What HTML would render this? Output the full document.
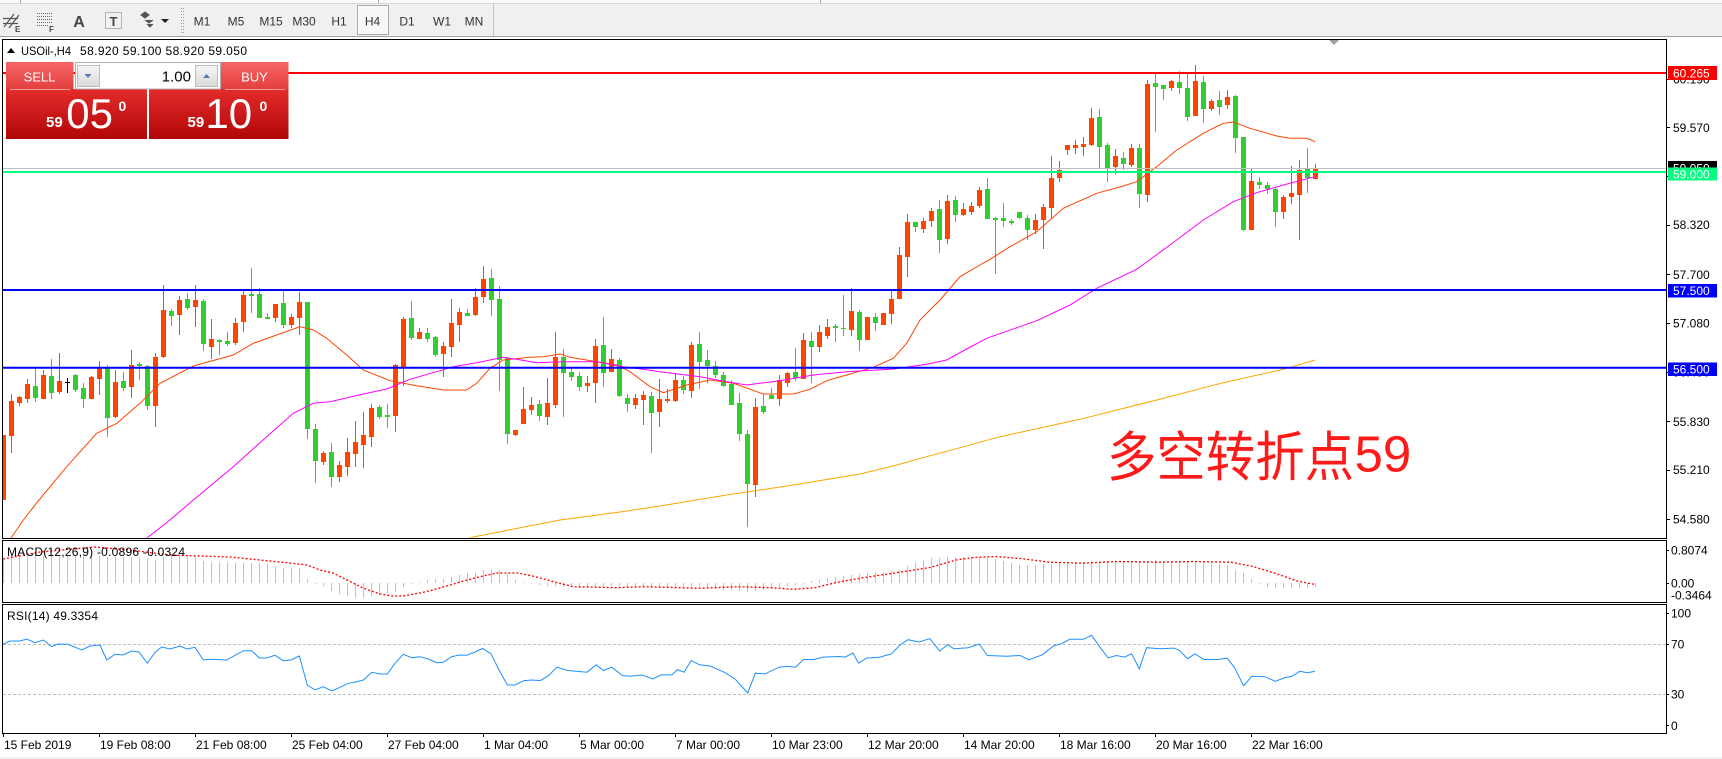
<!DOCTYPE html>
<html><head><meta charset="utf-8"><style>
html,body{margin:0;padding:0;background:#fff;width:1722px;height:759px;overflow:hidden}
svg{display:block}
text{font-family:"Liberation Sans","Noto Sans CJK SC",sans-serif}
</style></head><body>
<svg width="1722" height="759" viewBox="0 0 1722 759" xmlns="http://www.w3.org/2000/svg">
<defs>
<clipPath id="cm"><rect x="3" y="40" width="1663" height="498"/></clipPath>
<clipPath id="cd"><rect x="3" y="541" width="1663" height="61"/></clipPath>
<clipPath id="cr"><rect x="3" y="605" width="1663" height="128"/></clipPath>
<linearGradient id="gTab" x1="0" y1="0" x2="0" y2="1"><stop offset="0" stop-color="#f86565"/><stop offset="1" stop-color="#e33e3e"/></linearGradient>
<linearGradient id="gBox" x1="0" y1="0" x2="0" y2="1"><stop offset="0" stop-color="#e42c2c"/><stop offset="1" stop-color="#b20606"/></linearGradient>
<linearGradient id="gBtn" x1="0" y1="0" x2="0" y2="1"><stop offset="0" stop-color="#f6f6f6"/><stop offset="1" stop-color="#dadada"/></linearGradient>
</defs>
<rect width="1722" height="759" fill="#fff"/>

<!-- toolbar -->
<rect x="0" y="0" width="1722" height="37" fill="#f0f0f0"/>
<rect x="0" y="0" width="1722" height="3" fill="#fbfbfb"/>
<path d="M0 3.5H1722" stroke="#d4d4d4"/>
<path d="M20.5 0V3M378.5 0V3M820.5 0V3" stroke="#a0a0a0"/>
<path d="M0 36.5H1722" stroke="#a0a0a0"/>
<path d="M4 27l10-13M9 28l10-13M3 18.5h15M3 23.5h15" stroke="#555" stroke-width="1.2" fill="none"/>
<text x="15" y="32" font-size="8" font-weight="bold" fill="#444">E</text>
<path d="M37 13.5h15M37 16.5h15M37 19.5h15M37 22.5h15M37 25.5h11" stroke="#666" stroke-dasharray="1,1" fill="none"/>
<text x="49" y="32" font-size="8" font-weight="bold" fill="#444">F</text>
<text x="79" y="27" font-size="16" font-weight="bold" fill="#444" text-anchor="middle">A</text>
<rect x="105.5" y="12.5" width="16" height="16" fill="none" stroke="#777" stroke-dasharray="1,1"/>
<text x="113.5" y="26" font-size="13" font-weight="bold" fill="#444" text-anchor="middle">T</text>
<path d="M141 15l4-3 4 3-4 3zM145 20l4 3 4-3M147 24l3 3 3-3" fill="#555" stroke="#555"/>
<path d="M161 19h8l-4 4z" fill="#222"/>
<path d="M181.5 8V34M183.5 8V34" stroke="#999" stroke-dasharray="1,2"/>
<rect x="357.5" y="5.5" width="31" height="29" fill="#f8f8f8" stroke="#aaa"/>
<path d="M493.5 4V36" stroke="#c4c4c4"/>
<g font-size="12" fill="#333" text-anchor="middle">
<text x="202" y="25.5">M1</text><text x="236" y="25.5">M5</text><text x="271" y="25.5">M15</text><text x="304" y="25.5">M30</text><text x="339" y="25.5">H1</text><text x="372.5" y="25.5">H4</text><text x="407" y="25.5">D1</text><text x="442" y="25.5">W1</text><text x="474" y="25.5">MN</text>
</g>

<!-- main panel content -->
<g clip-path="url(#cm)">
<path fill="#ff4500" d="M1 435h5v65h-5zM9 401h5v35h-5zM17 397h5v6h-5zM25 384h5v15h-5zM41 375h5v24h-5zM57 381h5v11h-5zM89 377h5v22h-5zM97 367h5v12h-5zM113 382h5v35h-5zM129 365h5v22h-5zM153 357h5v49h-5zM161 310h5v47h-5zM177 300h5v15h-5zM193 300h5v7h-5zM209 339h5v8h-5zM233 323h5v20h-5zM241 295h5v27h-5zM273 304h5v14h-5zM289 317h5v8h-5zM297 302h5v16h-5zM321 453h5v9h-5zM337 465h5v12h-5zM345 452h5v15h-5zM353 442h5v12h-5zM361 435h5v10h-5zM369 408h5v29h-5zM393 365h5v51h-5zM401 319h5v48h-5zM417 332h5v7h-5zM441 346h5v8h-5zM449 323h5v24h-5zM457 312h5v13h-5zM473 297h5v18h-5zM481 279h5v18h-5zM513 430h5v5h-5zM521 409h5v15h-5zM529 405h5v5h-5zM545 403h5v14h-5zM553 357h5v48h-5zM585 383h5v3h-5zM593 346h5v37h-5zM609 359h5v13h-5zM633 398h5v7h-5zM641 395h5v5h-5zM657 399h5v13h-5zM665 399h5v2h-5zM673 380h5v21h-5zM689 345h5v46h-5zM753 407h5v78h-5zM777 380h5v19h-5zM785 373h5v10h-5zM801 340h5v39h-5zM817 332h5v15h-5zM825 327h5v9h-5zM849 311h5v19h-5zM865 317h5v23h-5zM881 313h5v12h-5zM889 299h5v15h-5zM897 255h5v44h-5zM905 222h5v35h-5zM921 221h5v8h-5zM929 211h5v10h-5zM945 201h5v38h-5zM961 209h5v6h-5zM969 206h5v6h-5zM977 190h5v16h-5zM1033 220h5v10h-5zM1041 207h5v13h-5zM1049 178h5v30h-5zM1057 170h5v8h-5zM1065 145h5v5h-5zM1073 145h5v3h-5zM1081 144h5v3h-5zM1089 118h5v27h-5zM1113 156h5v11h-5zM1129 148h5v17h-5zM1145 84h5v111h-5zM1169 81h5v7h-5zM1193 81h5v35h-5zM1209 101h5v8h-5zM1225 97h5v8h-5zM1249 181h5v49h-5zM1281 197h5v15h-5zM1289 193h5v4h-5zM1297 170h5v25h-5zM1313 168h5v11h-5z"/>
<path fill="none" stroke="#ff4500" d="M11.5 394V453M19.5 396V406M27.5 379V403M43.5 370V399M59.5 353V394M91.5 376V399M99.5 361V395M115.5 370V418M131.5 350V398M155.5 353V427M163.5 285V358M179.5 296V335M195.5 285V327M211.5 319V359M235.5 318V345M243.5 290V332M275.5 304V322M291.5 314V328M299.5 292V335M323.5 451V465M339.5 461V482M347.5 438V476M355.5 421V467M363.5 412V468M371.5 404V447M395.5 364V432M403.5 317V386M419.5 328V339M443.5 342V377M451.5 299V357M459.5 308V342M475.5 288V316M483.5 266V303M515.5 430V436M523.5 387V424M531.5 397V415M547.5 378V425M555.5 332V408M587.5 376V392M595.5 339V403M611.5 349V372M635.5 394V409M643.5 391V425M659.5 379V427M667.5 389V403M675.5 373V402M691.5 342V398M755.5 398V497M779.5 375V406M787.5 372V387M803.5 333V379M819.5 325V352M827.5 319V339M851.5 288V336M867.5 317V340M883.5 313V325M891.5 291V324M899.5 247V299M907.5 214V277M923.5 218V233M931.5 208V227M947.5 195V244M963.5 203V216M971.5 202V215M979.5 187V208M1035.5 214V234M1043.5 204V249M1051.5 156V218M1059.5 161V182M1067.5 145V155M1075.5 140V154M1083.5 137V156M1091.5 108V146M1115.5 149V174M1131.5 144V167M1147.5 80V202M1171.5 80V91M1195.5 65V116M1211.5 99V111M1227.5 90V109M1251.5 168V230M1283.5 195V219M1291.5 166V204M1299.5 160V240M1315.5 164V179"/>
<path fill="#32cd32" d="M33 386h5v12h-5zM49 376h5v17h-5zM73 375h5v15h-5zM81 388h5v11h-5zM105 368h5v50h-5zM121 381h5v7h-5zM137 364h5v2h-5zM145 366h5v40h-5zM169 311h5v5h-5zM185 299h5v9h-5zM201 301h5v43h-5zM217 340h5v2h-5zM225 341h5v3h-5zM249 294h5v2h-5zM257 294h5v24h-5zM265 317h5v2h-5zM281 303h5v22h-5zM305 302h5v127h-5zM313 429h5v32h-5zM329 452h5v25h-5zM377 407h5v10h-5zM385 415h5v2h-5zM409 318h5v20h-5zM425 333h5v6h-5zM433 337h5v18h-5zM465 313h5v3h-5zM489 278h5v22h-5zM497 299h5v61h-5zM505 358h5v76h-5zM537 404h5v12h-5zM561 357h5v16h-5zM569 372h5v5h-5zM577 376h5v11h-5zM601 345h5v28h-5zM617 360h5v36h-5zM625 398h5v6h-5zM649 396h5v17h-5zM681 380h5v10h-5zM697 344h5v18h-5zM705 360h5v6h-5zM713 366h5v9h-5zM721 375h5v11h-5zM729 384h5v21h-5zM737 403h5v31h-5zM745 434h5v50h-5zM761 406h5v6h-5zM769 395h5v4h-5zM793 372h5v6h-5zM809 341h5v6h-5zM833 326h5v2h-5zM841 328h5v1h-5zM857 312h5v28h-5zM873 317h5v6h-5zM913 222h5v5h-5zM937 209h5v31h-5zM953 200h5v15h-5zM985 189h5v30h-5zM993 218h5v2h-5zM1001 218h5v3h-5zM1009 221h5v2h-5zM1017 212h5v6h-5zM1025 218h5v12h-5zM1097 117h5v30h-5zM1105 145h5v23h-5zM1121 158h5v6h-5zM1137 148h5v46h-5zM1153 83h5v4h-5zM1161 85h5v4h-5zM1177 82h5v6h-5zM1185 88h5v29h-5zM1201 82h5v27h-5zM1217 100h5v7h-5zM1233 96h5v42h-5zM1241 137h5v93h-5zM1257 182h5v3h-5zM1265 185h5v4h-5zM1273 189h5v23h-5zM1305 169h5v9h-5z"/>
<path fill="none" stroke="#32cd32" d="M35.5 368V402M51.5 359V399M75.5 374V392M83.5 383V408M107.5 365V437M123.5 372V391M139.5 362V380M147.5 365V410M171.5 309V326M187.5 293V310M203.5 299V351M219.5 339V355M227.5 332V346M251.5 268V313M259.5 288V318M267.5 313V319M283.5 290V328M307.5 302V439M315.5 424V483M331.5 443V487M379.5 405V419M387.5 404V428M411.5 301V340M427.5 328V342M435.5 336V357M467.5 309V316M491.5 269V316M499.5 286V391M507.5 357V444M539.5 400V421M563.5 349V417M571.5 367V381M579.5 372V391M603.5 317V387M619.5 358V397M627.5 394V412M651.5 392V453M683.5 376V394M699.5 332V389M707.5 350V383M715.5 361V378M723.5 372V387M731.5 380V405M739.5 393V441M747.5 430V527M763.5 394V414M771.5 388V399M795.5 348V381M811.5 332V383M835.5 324V342M843.5 295V336M859.5 310V351M875.5 313V331M915.5 222V232M939.5 200V253M955.5 196V222M987.5 178V219M995.5 217V274M1003.5 203V227M1011.5 219V225M1019.5 212V219M1027.5 215V240M1099.5 109V168M1107.5 143V182M1123.5 152V170M1139.5 144V208M1155.5 74V132M1163.5 85V100M1179.5 71V94M1187.5 74V121M1203.5 76V123M1219.5 91V115M1235.5 95V153M1243.5 137V231M1259.5 177V189M1267.5 182V194M1275.5 187V227M1307.5 148V193"/>
<path fill="none" stroke="#000" d="M67.5 378V393M65 382.5H70"/>

<polyline fill="none" stroke="#ff4500" stroke-width="1" points="10,539 11.7,537 23.3,520 39,500 66.7,466.7 96.7,433.3 116.7,423.3 140,403.3 160,383.3 193.3,366 233.3,355 253.3,343.3 276.7,335 300,326.7 313.3,330 326.7,338.3 346.7,355 363.3,370 390,380.7 416.7,385.7 443.3,390 466.7,390 476.7,383.3 490,368.3 503.3,360 530,357.3 543.3,356.7 560,354 570,357.3 596.7,361.7 616.7,365 630,371.7 650,386.7 663.3,392.7 686.7,385 710,380 733.3,383.3 763.3,394 793.3,394 810,389.3 826.7,380.7 846.7,375 873.3,367.3 893.3,358.3 906.7,343.3 920,320 940,300 960,276.7 980,265 990,259.3 1010,246.7 1036.7,231.7 1063.3,208.3 1096.7,193.3 1123.3,186 1136.7,181.7 1156.7,166.7 1176.7,150 1203.3,133.3 1223.3,123.3 1233.3,122 1250,128.3 1276.7,136 1290,138.3 1306.7,138.3 1315,141.7"/>
<polyline fill="none" stroke="#ff00ff" stroke-width="1" points="146,539 148.3,537 170,520 193.3,500 233.3,466.7 266.7,436.7 293.3,413.3 313.3,403.3 330,401.7 363.3,394 386.7,389 410,379.3 440,370.7 453.3,366.7 476.7,362.7 503.3,357.3 516.7,359.3 536.7,362.7 563.3,361.7 596.7,361.7 623.3,366.7 643.3,369.3 660,371.7 700,376.7 726.7,381.7 746.7,385 760,383.3 780,380.7 813.3,375 846.7,371.7 893.3,369 926.7,364.3 946.7,360 966.7,349 986.7,338.3 1036.7,320.7 1070,305 1096.7,288.3 1136.7,269.3 1176.7,240 1203.3,220 1233.3,201.7 1256.7,192.7 1283.3,185 1315,176.7"/>
<polyline fill="none" stroke="#ffa500" stroke-width="1" points="468,539 473,537 500,531.7 560,520 620,512 660,506 726.7,495 793.3,485 860,474 893,466 926.7,456.7 960,447.7 1000,436.7 1080,419.3 1156.7,400 1223.3,382.7 1283.3,369.3 1315,360"/>

<path d="M3 73H1666" stroke="#ff0000" stroke-width="2"/>
<path d="M3 168.5H1666" stroke="#c0c0c0" stroke-width="1"/>
<path d="M3 172H1666" stroke="#00ff7f" stroke-width="2"/>
<path d="M3 290H1666" stroke="#0000ff" stroke-width="2"/>
<path d="M3 367.7H1666" stroke="#0000ff" stroke-width="2"/>
</g>

<!-- chart shift marker -->
<path d="M1329 40h10l-5 5z" fill="#a0a0a0"/>

<!-- Chinese annotation -->
<text x="1107" y="476" font-size="54" fill="#ff1a1a" textLength="247" lengthAdjust="spacingAndGlyphs" style="font-family:'Liberation Sans','Noto Sans CJK SC',sans-serif">多空转折点</text>
<text x="1354.5" y="471.5" font-size="51" fill="#ff1a1a">59</text>

<!-- header -->
<path d="M7 53l4-5 4 5z" fill="#000"/>
<text x="21" y="55" font-size="12" fill="#000" textLength="50" lengthAdjust="spacingAndGlyphs">USOil-,H4</text>
<text x="80" y="55" font-size="12" fill="#000" textLength="167">58.920 59.100 58.920 59.050</text>

<!-- trade panel -->
<rect x="6" y="62" width="67.5" height="28" fill="url(#gTab)"/>
<rect x="221" y="62" width="67.5" height="28" fill="url(#gTab)"/>
<rect x="6" y="89" width="141" height="50" fill="url(#gBox)"/>
<rect x="149" y="89" width="139.5" height="50" fill="url(#gBox)"/>
<path d="M10 89.5h60M225 89.5h60" stroke="#f49a9a"/>
<rect x="75.5" y="62.5" width="145" height="26.5" fill="#fff" stroke="#b0b0b0"/>
<rect x="77.5" y="65.5" width="22" height="21" fill="url(#gBtn)" stroke="#bcbcbc"/>
<path d="M84.5 74h7l-3.5 4z" fill="#5a78b4"/>
<rect x="195.5" y="65.5" width="22" height="21" fill="url(#gBtn)" stroke="#bcbcbc"/>
<path d="M203 78h7l-3.5-4z" fill="#5a78b4"/>
<text x="191" y="81.5" font-size="15" fill="#000" text-anchor="end">1.00</text>
<text x="39.5" y="81.5" font-size="13" fill="#fff" text-anchor="middle">SELL</text>
<text x="254.5" y="81.5" font-size="13" fill="#fff" text-anchor="middle">BUY</text>
<text x="46" y="127" font-size="15" font-weight="bold" fill="#fff">59</text>
<text x="66.3" y="128" font-size="42" fill="#fff">05</text>
<text x="118.5" y="111" font-size="14" font-weight="bold" fill="#fff">0</text>
<text x="187.5" y="127" font-size="15" font-weight="bold" fill="#fff">59</text>
<text x="205.4" y="128" font-size="42" fill="#fff">10</text>
<text x="259.5" y="111" font-size="14" font-weight="bold" fill="#fff">0</text>

<!-- MACD -->
<g clip-path="url(#cd)">
<path fill="none" stroke="#c0c0c0" d="M3.5 583V559M11.5 583V556M19.5 583V556M27.5 583V556M35.5 583V556M43.5 583V556M51.5 583V556M59.5 583V556M67.5 583V556M75.5 583V556M83.5 583V556M91.5 583V556M99.5 583V556M107.5 583V557M115.5 583V557M123.5 583V557M131.5 583V557M139.5 583V557M147.5 583V558M155.5 583V560M163.5 583V556M171.5 583V556M179.5 583V556M187.5 583V556M195.5 583V557M203.5 583V561M211.5 583V562M219.5 583V562M227.5 583V562M235.5 583V563M243.5 583V563M251.5 583V563M259.5 583V563M267.5 583V564M275.5 583V567M283.5 583V568M291.5 583V568M299.5 583V568M307.5 583V579M315.5 583V584M323.5 583V586M331.5 583V591M339.5 583V594M347.5 583V596M355.5 583V598M363.5 583V598M371.5 583V596M379.5 583V595M387.5 583V593M395.5 583V592M403.5 583V587M411.5 583V584M419.5 583V582M427.5 583V580M435.5 583V579M443.5 583V579M451.5 583V577M459.5 583V575M467.5 583V573M475.5 583V573M483.5 583V570M491.5 583V569M499.5 583V570M507.5 583V574M515.5 583V580M523.5 583V582M531.5 583V584M539.5 583V585M547.5 583V586M555.5 583V586M563.5 583V587M571.5 583V587M579.5 583V587M587.5 583V587M595.5 583V586M603.5 583V586M611.5 583V586M619.5 583V586M627.5 583V587M635.5 583V587M643.5 583V587M651.5 583V588M659.5 583V587M667.5 583V587M675.5 583V587M683.5 583V587M691.5 583V587M699.5 583V587M707.5 583V588M715.5 583V589M723.5 583V590M731.5 583V590M739.5 583V591M747.5 583V592M755.5 583V591M763.5 583V590M771.5 583V588M779.5 583V587M787.5 583V586M795.5 583V585M803.5 583V584M811.5 583V581M819.5 583V580M827.5 583V578M835.5 583V577M843.5 583V576M851.5 583V575M859.5 583V574M867.5 583V573M875.5 583V572M883.5 583V572M891.5 583V571M899.5 583V570M907.5 583V566M915.5 583V562M923.5 583V560M931.5 583V558M939.5 583V558M947.5 583V557M955.5 583V557M963.5 583V557M971.5 583V557M979.5 583V558M987.5 583V558M995.5 583V559M1003.5 583V561M1011.5 583V563M1019.5 583V565M1027.5 583V565M1035.5 583V565M1043.5 583V564M1051.5 583V564M1059.5 583V563M1067.5 583V563M1075.5 583V562M1083.5 583V562M1091.5 583V561M1099.5 583V561M1107.5 583V561M1115.5 583V561M1123.5 583V561M1131.5 583V561M1139.5 583V561M1147.5 583V561M1155.5 583V560M1163.5 583V561M1171.5 583V561M1179.5 583V561M1187.5 583V562M1195.5 583V562M1203.5 583V563M1211.5 583V563M1219.5 583V564M1227.5 583V565M1235.5 583V570M1243.5 583V573M1251.5 583V579M1259.5 583V584M1267.5 583V587M1275.5 583V588M1283.5 583V588M1291.5 583V588M1299.5 583V588M1307.5 583V588M1315.5 583V587"/>
<polyline fill="none" stroke="#ff0000" stroke-width="1.3" stroke-dasharray="2,2" points="3,559 40,552 95,547 130,550 170,555 230,557 260,560 290,563 307,565 320,570 333,573 347,580 363,588 380,594 393,596 403,596 420,593 433,590 450,585 467,580 483,576 497,573 518,573 535,576.6 551,581 573,586.7 617,587.7 645,586.7 699,588.3 738,586.7 771,587.7 793,589.3 815,587.7 837,582.3 864,577.6 897,572.6 930,567.5 957,559.8 974,557.5 996,556.5 1023,558.8 1050,562.2 1083,563.2 1116,561.5 1160,562.2 1193,561.5 1231,562.2 1253,566.5 1275,573.2 1297,581 1314,584.3"/>
</g>
<text x="7" y="556" font-size="12" fill="#000" textLength="178">MACD(12,26,9) -0.0896 -0.0324</text>

<!-- RSI -->
<path d="M3 644.5H1666M3 694.5H1666" stroke="#c0c0c0" stroke-dasharray="3,2"/>
<g clip-path="url(#cr)">
<polyline fill="none" stroke="#1e90ff" stroke-width="1" points="2.7,644.3 10,641 20,641 26.7,639 35,642.7 43.3,640 51.7,646.7 58,644 68,644.3 81.7,650 90,646 100,645 106.7,660 115,654.3 123,655 131.7,651 139,652 147.3,663.3 155,652.3 161.7,647 170,649 180,646 187,649 195,647.3 203.3,660 210,659.3 226.7,660 243.3,650.7 251.7,650.7 259.3,658 266.7,658 275,655.3 283.3,660.7 291,660 299.3,656 307.3,685 315,690 323.3,686.7 331.7,691 340,687.3 348.3,683.3 356.7,681.7 363.3,680 371.7,672.3 380,674 387.3,674 395,663.3 403.3,654.3 411.7,657.7 420,656.7 428.3,659 436.7,662.7 443.3,662.3 451.7,656.7 459.3,655 466.7,655.3 475,652 482.7,648.5 491,653.8 499,670 507.4,685 515,685 523.9,680.6 532,680 540.3,680.6 548.6,675.6 556.8,667.2 567.8,670.5 587,672.2 596.3,664.8 603.4,670.5 611.7,667.2 622.6,675.6 630,676.3 641.8,674.9 652.8,679 661,674.9 672,674.9 677.5,669.5 684,672.2 691.2,660.5 699.4,664.8 710,666 724.1,672.2 735.1,679 747.7,693 755.4,673.2 765,673.9 779,667.2 787,666.2 795.4,667.2 803.6,659.5 814,659.5 822.8,657.1 839.3,656.5 845,657.1 853,653.1 858.5,663.2 866.7,658.1 880,657.1 891.4,653.8 899.6,645.4 907.9,639.7 919,642 929.8,638.7 939.7,651.1 947.4,644.7 954,648.7 968.2,647.7 979.2,644 987.4,655.5 1006.6,656.2 1020.3,655.5 1028.5,659.8 1042.3,654.8 1053.2,646.1 1061.5,643.7 1069.7,639.3 1083.4,639.3 1091.6,635.3 1099.9,647.1 1108.1,657.8 1116.3,655.5 1124.5,657.1 1131.7,653.8 1139.3,668.9 1146.5,647.7 1160.2,648.7 1173.9,648.1 1179.4,650.4 1187.6,658.8 1194.8,653.8 1204.1,659.5 1217.8,659.5 1227.1,658.1 1234.2,667.2 1243.6,685.7 1251.8,676.3 1264.4,676.6 1275.4,681.3 1283.6,678 1291.9,676.3 1300.1,671.2 1307.2,672.9 1314.9,671.2"/>
</g>
<text x="7" y="620" font-size="12" fill="#000" textLength="91">RSI(14) 49.3354</text>

<!-- frames -->
<g fill="none" stroke="#000" stroke-width="1">
<rect x="2.5" y="39.5" width="1664" height="499"/>
<rect x="2.5" y="540.5" width="1664" height="62"/>
<rect x="2.5" y="604.5" width="1664" height="129"/>
</g>

<!-- price axis -->
<path stroke="#000" d="M1666 79.5h4M1666 127.5h4M1666 176.5h4M1666 225.5h4M1666 274.5h4M1666 323.5h4M1666 372.5h4M1666 421.5h4M1666 470.5h4M1666 519.5h4M1666 550.5h3M1666 583.5h3M1666 613.5h3M1666 644.5h3M1666 694.5h3M1666 725.5h3"/>
<g font-size="12" fill="#000">
<text x="1673" y="83.3">60.190</text>
<text x="1673" y="131.9">59.570</text>
<text x="1673" y="180.5">58.950</text>
<text x="1673" y="229.2">58.320</text>
<text x="1673" y="278.9">57.700</text>
<text x="1673" y="327.5">57.080</text>
<text x="1673" y="376.4">56.450</text>
<text x="1673" y="425.9">55.830</text>
<text x="1673" y="474.2">55.210</text>
<text x="1673" y="523.5">54.580</text>
<text x="1671" y="554.3">0.8074</text>
<text x="1671" y="587.6">0.00</text>
<text x="1671" y="599.3">-0.3464</text>
<text x="1671" y="617.6">100</text>
<text x="1671" y="648.6">70</text>
<text x="1671" y="698.6">30</text>
<text x="1671" y="730">0</text>
</g>
<rect x="1668" y="66" width="49" height="14" fill="#ff0000"/>
<text x="1673" y="77.5" font-size="12" fill="#fff">60.265</text>
<rect x="1668" y="161" width="49" height="14" fill="#000"/>
<text x="1673" y="172.5" font-size="12" fill="#fff">59.050</text>
<rect x="1668" y="167.5" width="49" height="13" fill="#00ff7f"/>
<text x="1673" y="178.5" font-size="12" fill="#fff">59.000</text>
<rect x="1668" y="284" width="49" height="13.5" fill="#0000ff"/>
<text x="1673" y="295" font-size="12" fill="#fff">57.500</text>
<rect x="1668" y="362.5" width="49" height="13.5" fill="#0000ff"/>
<text x="1673" y="373.5" font-size="12" fill="#fff">56.500</text>

<!-- time axis -->
<path stroke="#000" d="M3.5 733v4M99.5 733v4M195.5 733v4M291.5 733v4M387.5 733v4M483.5 733v4M579.5 733v4M675.5 733v4M771.5 733v4M867.5 733v4M963.5 733v4M1059.5 733v4M1155.5 733v4M1251.5 733v4"/>
<g font-size="12" fill="#000">
<text x="4" y="749">15 Feb 2019</text>
<text x="100" y="749">19 Feb 08:00</text>
<text x="196" y="749">21 Feb 08:00</text>
<text x="292" y="749">25 Feb 04:00</text>
<text x="388" y="749">27 Feb 04:00</text>
<text x="484" y="749">1 Mar 04:00</text>
<text x="580" y="749">5 Mar 00:00</text>
<text x="676" y="749">7 Mar 00:00</text>
<text x="772" y="749">10 Mar 23:00</text>
<text x="868" y="749">12 Mar 20:00</text>
<text x="964" y="749">14 Mar 20:00</text>
<text x="1060" y="749">18 Mar 16:00</text>
<text x="1156" y="749">20 Mar 16:00</text>
<text x="1252" y="749">22 Mar 16:00</text>
</g>
<rect x="0" y="757" width="1722" height="2" fill="#f0f0f0"/>
</svg>
</body></html>
